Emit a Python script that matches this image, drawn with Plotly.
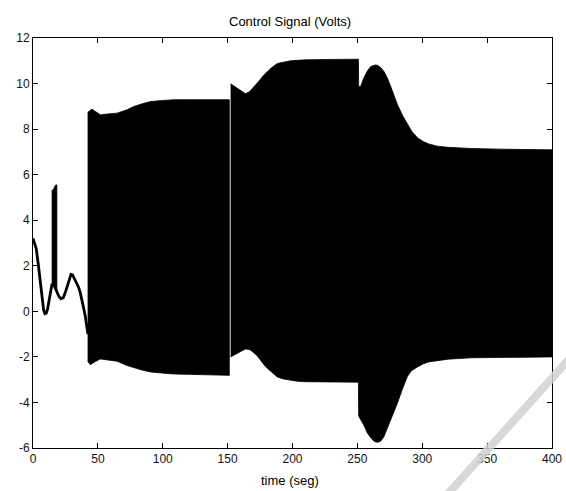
import plotly.graph_objects as go

# ---- Data ----
# Early (non-oscillating) part of the control signal
t_early = [0, 1, 2.5, 4, 5.6, 7, 8.2, 9.2, 10.2, 11.2, 12.3, 13.5, 14.5, 16.5, 18.5,
           20, 21.6, 23.3, 25, 26.5, 28, 29.3, 30.5, 31.5, 33.5, 35.2, 36.5, 37.8,
           39, 40.4, 41.2, 42.3]
u_early = [3.2, 3.05, 2.75, 2.1, 1.35, 0.6, 0.05, -0.1, -0.08, 0.1, 0.4, 0.8, 1.15, 1.1, 0.85,
           0.65, 0.55, 0.6, 0.85, 1.15, 1.45, 1.62, 1.6, 1.48, 1.3, 1.05, 0.8, 0.5,
           0.15, -0.25, -0.6, -1.0]

# Short burst around t ~ 15-18 s (envelope)
t_burst = [14.4, 15.5, 16.5, 17.5, 18.4]
burst_hi = [5.3, 5.33, 5.45, 5.55, 5.55]
burst_lo = [1.15, 1.15, 1.1, 1.0, 0.9]

# Fast oscillation envelope, segment 1 (approx. 42 - 151 s)
t_seg1 = [42.1, 44.2, 45.5, 46.8, 48.1, 51.9, 57.1, 64.8, 72.5, 77.6, 84.1, 90.5,
          98.2, 103.4, 108.5, 120, 129.1, 140, 151.3]
hi_seg1 = [8.73, 8.85, 8.88, 8.82, 8.77, 8.63, 8.66, 8.70, 8.85, 8.99, 9.11, 9.21,
           9.25, 9.27, 9.29, 9.29, 9.29, 9.29, 9.29]
lo_seg1 = [-2.19, -2.34, -2.3, -2.26, -2.2, -2.09, -2.12, -2.19, -2.38, -2.48, -2.58, -2.66,
           -2.71, -2.73, -2.75, -2.77, -2.78, -2.8, -2.81]

# Fast oscillation envelope, segment 2 (approx. 152 - 400 s)
t_seg2 = [152.3, 157.4, 163.8, 167, 170.2, 172.8, 174, 178, 180.6, 183, 184, 188.3, 193,
          195, 198.5, 203.7, 210, 229.4, 230, 250.8, 251.0, 252.5, 255, 257.7, 260.3,
          262.8, 264, 265.5, 267, 268, 270.5, 273.1, 275.7, 277, 280.9, 284.8, 286,
          288.6, 291.1, 292, 296.3, 298.8, 301, 305, 306.6, 311.7, 320, 337.4, 360, 400]
hi_seg2 = [9.99, 9.8, 9.55, 9.65, 9.85, 10.0, 10.1, 10.38, 10.53, 10.65, 10.7, 10.88, 10.95,
           10.97, 11.0, 11.02, 11.04, 11.06, 11.06, 11.07, 9.87, 9.87, 10.25, 10.55, 10.75,
           10.8, 10.82, 10.8, 10.75, 10.7, 10.53, 10.24, 9.87, 9.65, 9.07, 8.6, 8.48,
           8.2, 7.97, 7.9, 7.62, 7.53, 7.45, 7.35, 7.32, 7.25, 7.2, 7.15, 7.12, 7.09]
lo_seg2 = [-2.0, -1.86, -1.65, -1.68, -1.82, -1.95, -2.05, -2.34, -2.5, -2.63, -2.68, -2.88, -2.97,
           -3.0, -3.03, -3.07, -3.09, -3.11, -3.11, -3.11, -4.6, -4.75, -5.0, -5.34, -5.55,
           -5.7, -5.73, -5.75, -5.73, -5.7, -5.5, -5.19, -4.8, -4.6, -4.02, -3.4, -3.2,
           -2.85, -2.65, -2.6, -2.44, -2.36, -2.3, -2.22, -2.19, -2.15, -2.1, -2.04, -2.02, -2.0]

x_ticks = [0, 50, 100, 150, 200, 250, 300, 350, 400]
y_ticks = [-6, -4, -2, 0, 2, 4, 6, 8, 10, 12]

FONT = "Liberation Sans, Arial, sans-serif"


def band(t, hi, lo):
    return go.Scatter(
        x=list(t) + list(t)[::-1],
        y=list(hi) + list(lo)[::-1],
        mode="lines",
        fill="toself",
        fillcolor="black",
        line=dict(color="black", width=0.8),
        hoverinfo="skip",
        showlegend=False,
    )


fig = go.Figure()
fig.add_trace(go.Scatter(x=t_early, y=u_early, mode="lines",
                         line=dict(color="black", width=2.8), showlegend=False))
fig.add_trace(band(t_burst, burst_hi, burst_lo))
fig.add_trace(band(t_seg1, hi_seg1, lo_seg1))
fig.add_trace(band(t_seg2, hi_seg2, lo_seg2))

axis_common = dict(
    showgrid=False, zeroline=False, showline=True, linecolor="black", linewidth=1,
    mirror="ticks", ticks="inside", ticklen=5, tickcolor="black", tickwidth=1,
    automargin=False,
    tickfont=dict(family=FONT, size=12, color="#111111"),
)

fig.update_layout(
    width=566, height=491,
    margin=dict(l=33, r=14, t=38, b=43),
    paper_bgcolor="white", plot_bgcolor="white",
    font=dict(family=FONT, size=12, color="black"),
    xaxis=dict(range=[0, 400], tickvals=x_ticks, ticktext=[str(v) for v in x_ticks],
               **axis_common),
    yaxis=dict(range=[-6, 12], tickvals=y_ticks, ticktext=[str(v) for v in y_ticks],
               **axis_common),
    annotations=[
        dict(text="Control Signal (Volts)", xref="paper", yref="paper",
             x=0.495, y=1.041, xanchor="center", yanchor="middle", showarrow=False,
             font=dict(family=FONT, size=13, color="black")),
        dict(text="time (seg)", xref="paper", yref="paper",
             x=0.495, y=-0.08, xanchor="center", yanchor="middle", showarrow=False,
             font=dict(family=FONT, size=13, color="black")),
    ],
    shapes=[
        dict(type="line", xref="paper", yref="paper",
             x0=1.06, y0=0.255, x1=0.79, y1=-0.125,
             line=dict(color="#d2d2d2", width=8), opacity=0.85, layer="above"),
    ],
)

fig.write_html("out.html", config={"displayModeBar": False},
               post_script="document.body.style.margin='0';document.body.style.padding='0';")
